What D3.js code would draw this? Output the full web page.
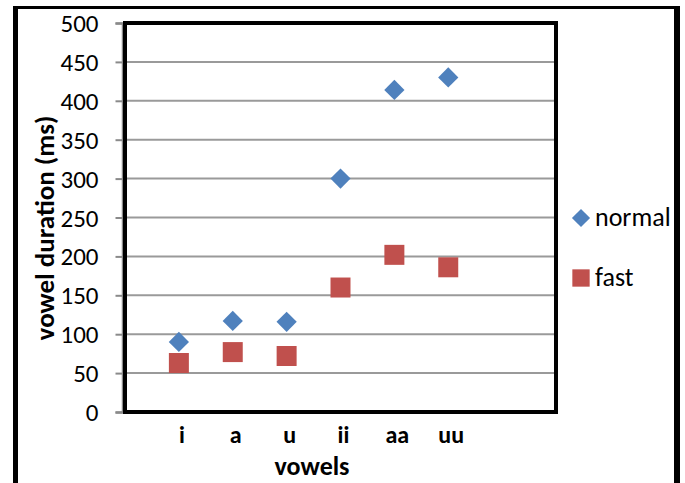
<!DOCTYPE html>
<html>
<head>
<meta charset="utf-8">
<script src="https://cdn.jsdelivr.net/npm/d3@7"></script>
<style>
  body { margin: 0; background: #fff; }
  text { font-family: Carlito, "Liberation Sans", Arial, sans-serif; fill: #000; }
</style>
</head>
<body>
<svg id="chart" width="685" height="483"></svg>
<script>
// data
const vowels = ["i", "a", "u", "ii", "aa", "uu"];
const normal = [90, 117, 116, 300, 414, 430];
const fast = [63, 77, 72, 160, 202, 186];
const seriesNames = ["normal", "fast"];

const svg = d3.select("#chart");

const plot = {left: 125, right: 556, top: 23, bottom: 412};

const x = d3.scaleLinear().domain([0, 8]).range([plot.left, plot.right]);
const y = d3.scaleLinear().domain([0, 500]).range([plot.bottom, plot.top]);

// outer frame (bottom edge runs off the picture)
svg.append("line").attr("x1", 15.5).attr("x2", 15.5).attr("y1", 6).attr("y2", 490)
  .attr("stroke", "#000").attr("stroke-width", 5);
svg.append("line").attr("x1", 13).attr("x2", 680).attr("y1", 7.5).attr("y2", 7.5)
  .attr("stroke", "#000").attr("stroke-width", 3);
svg.append("line").attr("x1", 677).attr("x2", 677).attr("y1", 6).attr("y2", 490)
  .attr("stroke", "#000").attr("stroke-width", 6);

// gridlines
svg.append("g").selectAll("line")
  .data(y.ticks(10).filter(d => d > 0 && d < 500))
  .enter().append("line")
  .attr("x1", plot.left).attr("x2", plot.right)
  .attr("y1", d => y(d)).attr("y2", d => y(d))
  .attr("stroke", "#9a9a9a").attr("stroke-width", 2);

// y axis
const yAxis = svg.append("g")
  .attr("transform", "translate(122.5,0)")
  .call(d3.axisLeft(y).ticks(10).tickSize(7).tickPadding(17));
yAxis.select(".domain").attr("stroke", "#8a8a8a").attr("stroke-width", 2.5);
yAxis.selectAll(".tick line").attr("stroke", "#8a8a8a").attr("stroke-width", 2);
yAxis.selectAll(".tick text")
  .style("font-size", "25px")
  .style("font-family", "Carlito, 'Liberation Sans', Arial, sans-serif")
  .attr("fill", "#000").attr("dy", "0.34em");

// plot frame
svg.append("rect")
  .attr("x", plot.left).attr("y", plot.top)
  .attr("width", plot.right - plot.left).attr("height", plot.bottom - plot.top)
  .attr("fill", "none").attr("stroke", "#000").attr("stroke-width", 4);

// category labels
svg.append("g").selectAll("text")
  .data(vowels)
  .enter().append("text")
  .attr("x", (d, i) => x(i + 1) + 3)
  .attr("y", 443)
  .attr("text-anchor", "middle")
  .style("font-size", "24px").style("font-weight", "bold")
  .text(d => d);

// axis titles
svg.append("text")
  .attr("x", 312).attr("y", 475)
  .attr("text-anchor", "middle")
  .style("font-size", "26px").style("font-weight", "bold")
  .text("vowels");

svg.append("text")
  .attr("transform", "translate(54,228) rotate(-90)")
  .attr("text-anchor", "middle")
  .style("font-size", "27px").style("font-weight", "bold")
  .text("vowel duration (ms)");

const diamond = d3.symbol().type(d3.symbolSquare).size(205);
const square = d3.symbol().type(d3.symbolSquare).size(400);

// fast series
svg.append("g").selectAll("path")
  .data(fast)
  .enter().append("path")
  .attr("d", square)
  .attr("transform", (d, i) => "translate(" + x(i + 1) + "," + y(d) + ")")
  .attr("fill", "#C0504D");

// normal series
svg.append("g").selectAll("path")
  .data(normal)
  .enter().append("path")
  .attr("d", diamond)
  .attr("transform", (d, i) => "translate(" + x(i + 1) + "," + y(d) + ") rotate(45)")
  .attr("fill", "#4F81BD");

// legend
const legend = svg.append("g").selectAll("g")
  .data(seriesNames)
  .enter().append("g")
  .attr("transform", (d, i) => "translate(581," + (218 + i * 60) + ")");
legend.append("path")
  .attr("d", (d, i) => i === 0 ? d3.symbol().type(d3.symbolSquare).size(165)() : d3.symbol().type(d3.symbolSquare).size(300)())
  .attr("transform", (d, i) => i === 0 ? "rotate(45)" : "")
  .attr("fill", (d, i) => i === 0 ? "#4F81BD" : "#C0504D");
legend.append("text")
  .attr("x", 14).attr("y", 8)
  .style("font-size", "26px")
  .text(d => d);
</script>
</body>
</html>
